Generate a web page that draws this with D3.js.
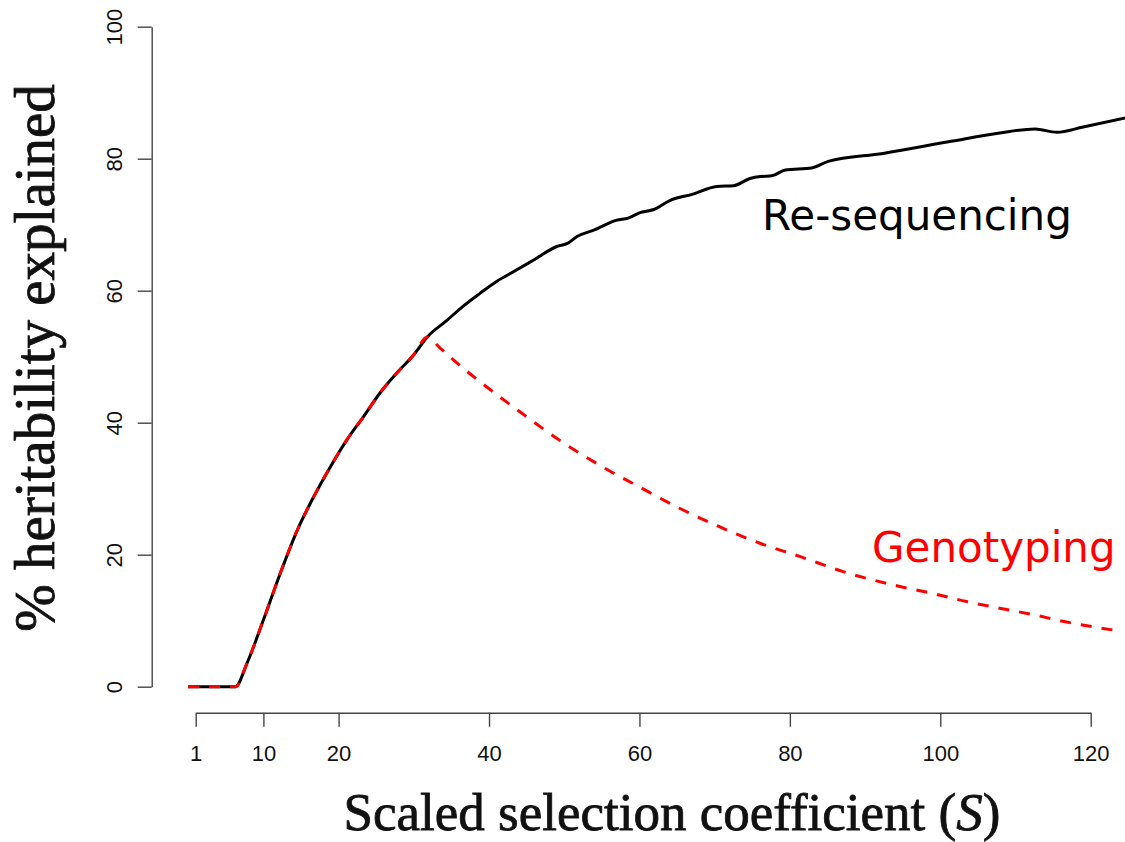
<!DOCTYPE html>
<html>
<head>
<meta charset="utf-8">
<script src="https://cdn.jsdelivr.net/npm/d3@7"></script>
<style>
  html, body { margin: 0; padding: 0; background: #fff; }
  svg { display: block; }
</style>
</head>
<body>
<svg id="chart" width="1125" height="842"></svg>
<script>
// ---- data ----
const xTicks = [1, 10, 20, 40, 60, 80, 100, 120];
const yTicks = [0, 20, 40, 60, 80, 100];

const sResequencing = [0, 6.3, 7.8, 10, 12.25, 14.5, 16.7, 18.9, 21.1, 23.3, 25.5, 27.8, 30, 31.8,
  34.4, 36.5, 38.8, 41, 43.3, 46, 49, 50.5, 51.7, 54, 57, 58.5, 60, 61.9, 64.1, 67, 70.3,
  72.5, 74.7, 76.1, 77.6, 79.4, 82.9, 85.1, 92.4, 101.3, 107.9, 112.6, 115.5, 119.0, 125.1];
const hResequencing = [0, 0, 3.5, 10.1, 17.2, 23.7, 28.8, 33.3, 37.4, 40.9, 44.5, 47.6, 50.3, 53.0,
  55.5, 57.6, 59.6, 61.4, 62.9, 64.7, 66.7, 67.2, 68.2, 69.2, 70.7, 71.0, 71.8, 72.3, 73.7, 74.6, 75.8,
  75.9, 77.0, 77.3, 77.4, 78.3, 78.6, 79.6, 80.8, 82.6, 83.9, 84.5, 84.0, 84.8, 86.3];

const sGenotyping = [0, 6.3, 7.8, 10, 12.25, 14.5, 16.7, 18.9, 21.1, 23.3, 25.5, 27.8, 30, 31.8,
  33.5, 36, 38.8, 41.1, 45, 49.7, 54.8, 60.1, 65.4, 70.7, 76.1, 81.4, 87.2, 93.8, 99.1,
  103.5, 107.9, 112.4, 116.8, 123.5];
const hGenotyping = [0, 0, 3.5, 10.1, 17.2, 23.7, 28.8, 33.3, 37.4, 40.9, 44.5, 47.6, 50.3, 53.0,
  51.3, 48.8, 46.2, 44.2, 40.9, 37.1, 33.5, 30.2, 27.0, 24.2, 21.7, 19.7, 17.4, 15.4, 14.1,
  12.9, 11.9, 10.9, 9.8, 8.5];

const seriesLabels = ["Re-sequencing", "Genotyping"];
const xTitle = "Scaled selection coefficient (";
const xTitleVar = "S";
const yTitle = "% heritability explained";

// ---- layout ----
const svg = d3.select("#chart");
const axisColor = "#444";
const x = d3.scaleLinear().domain([1, 120]).range([195.7, 1090.7]);
const y = d3.scaleLinear().domain([0, 100]).range([686.7, 26.7]);
const xAxisY = 712.7;
const yAxisX = 151.7;

// x axis
const gx = svg.append("g")
  .attr("transform", `translate(0,${xAxisY})`)
  .call(d3.axisBottom(x).tickValues(xTicks).tickSize(14).tickSizeOuter(0).tickFormat(d3.format("d")));
gx.select(".domain").attr("stroke", axisColor).attr("stroke-width", 1.4);
gx.selectAll(".tick line").attr("stroke", axisColor).attr("stroke-width", 1.4);
gx.selectAll(".tick text")
  .attr("y", 48.5).attr("dy", 0)
  .attr("fill", "#111")
  .style("font-family", "'Liberation Sans', Arial, sans-serif")
  .style("font-size", "22px");

// y axis
const gy = svg.append("g")
  .attr("transform", `translate(${yAxisX},0)`)
  .call(d3.axisLeft(y).tickValues(yTicks).tickSize(14).tickSizeOuter(0).tickFormat(d3.format("d")));
gy.select(".domain").attr("stroke", axisColor).attr("stroke-width", 1.4);
gy.selectAll(".tick line").attr("stroke", axisColor).attr("stroke-width", 1.4);
gy.selectAll(".tick text")
  .attr("transform", "rotate(-90)")
  .attr("x", 0).attr("y", -30).attr("dy", 0)
  .attr("text-anchor", "middle")
  .attr("fill", "#111")
  .style("font-family", "'Liberation Sans', Arial, sans-serif")
  .style("font-size", "22px");

// lines
const line = d3.line().x(d => x(d[0])).y(d => y(d[1])).curve(d3.curveMonotoneX);
const reseq = sResequencing.map((s, i) => [s, hResequencing[i]]);
const geno = sGenotyping.map((s, i) => [s, hGenotyping[i]]);

svg.append("path")
  .datum(reseq)
  .attr("d", line)
  .attr("fill", "none")
  .attr("stroke", "#000")
  .attr("stroke-width", 3)
  .attr("stroke-linejoin", "round");

svg.append("path")
  .datum(geno)
  .attr("d", line)
  .attr("fill", "none")
  .attr("stroke", "#ff0000")
  .attr("stroke-width", 3)
  .attr("stroke-dasharray", "11,10");

// series labels
svg.append("text")
  .attr("x", 762).attr("y", 230)
  .attr("fill", "#000")
  .style("font-family", "'DejaVu Sans', Verdana, sans-serif")
  .style("font-size", "42px")
  .text(seriesLabels[0]);

svg.append("text")
  .attr("x", 872).attr("y", 562)
  .attr("fill", "#ff0000")
  .style("font-family", "'DejaVu Sans', Verdana, sans-serif")
  .style("font-size", "42px")
  .text(seriesLabels[1]);

// axis titles
const xt = svg.append("text")
  .attr("x", 672).attr("y", 830)
  .attr("text-anchor", "middle")
  .attr("fill", "#111")
  .attr("stroke", "#111").attr("stroke-width", 0.8)
  .style("font-family", "'Liberation Serif', 'Times New Roman', serif")
  .style("font-size", "53px");
xt.append("tspan").text(xTitle);
xt.append("tspan").style("font-style", "italic").text(xTitleVar);
xt.append("tspan").text(")");

svg.append("text")
  .attr("transform", "translate(54,358) rotate(-90)")
  .attr("text-anchor", "middle")
  .attr("fill", "#111")
  .attr("stroke", "#111").attr("stroke-width", 0.8)
  .style("font-family", "'Liberation Serif', 'Times New Roman', serif")
  .style("font-size", "57px")
  .text(yTitle);
</script>
</body>
</html>
